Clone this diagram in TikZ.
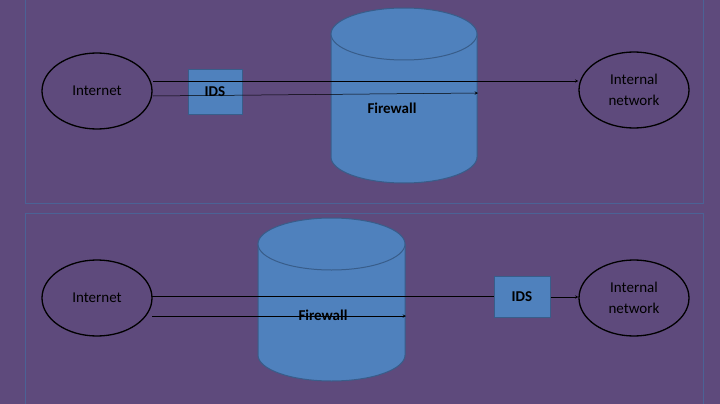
\documentclass[tikz,border=0pt]{standalone}
\usepackage{fontspec}
\setmainfont{Carlito}
\usetikzlibrary{shapes.geometric}
\begin{document}
\begin{tikzpicture}[x=1pt,y=-1pt,
  ell/.style={draw=black,line width=1.3pt,ellipse,minimum width=110pt,minimum height=76pt,inner sep=1pt,font=\fontsize{15}{21}\selectfont,align=center},
  box/.style={draw=blueb,fill=bluef,line width=1pt,minimum width=54pt,minimum height=44pt,font=\bfseries\fontsize{15}{18}\selectfont},
  cyl/.style={draw=blueb,fill=bluef,line width=1pt},
  arr/.style={->,>=stealth,line width=0.5pt},
  lbl/.style={font=\bfseries\fontsize{15}{18}\selectfont}]
\definecolor{bg}{HTML}{5E4A7C}
\definecolor{panel}{HTML}{4B6295}
\definecolor{bluef}{HTML}{4F81BD}
\definecolor{blueb}{HTML}{385D8A}
\useasboundingbox (0,0) rectangle (720,404);
\fill[bg] (0,0) rectangle (720,404);
\draw[panel,line width=1pt] (25,-5) rectangle (703,203);
\draw[panel,line width=1pt] (25,213) rectangle (703,410);
% top
\draw[cyl] (331,34) -- (331,157) arc[start angle=180,end angle=0,x radius=73,y radius=26] -- (477,34);
\draw[cyl] (404,34) ellipse[x radius=73,y radius=26];
\node[lbl] (fw1) at (392,108) {Firewall};
\node[ell] (in1) at (97,91) {Internet};
\node[box] (ids1) at (215,92) {IDS};
\node[ell] (net1) at (634,90) {Internal\\network};
\coordinate (a1) at (153,81);
\coordinate (b1) at (153,96);
\coordinate (c1) at (478,93);
\draw[arr] (a1) -- (net1.west |- a1);
\draw[arr] (b1) -- (c1);
% bottom
\draw[cyl] (258,244) -- (258,355) arc[start angle=180,end angle=0,x radius=73.5,y radius=26] -- (405,244);
\draw[cyl] (331.5,244) ellipse[x radius=73.5,y radius=26];
\node[lbl] (fw2) at (323,315) {Firewall};
\node[ell] (in2) at (97,298) {Internet};
\node[box,minimum width=56pt,minimum height=41pt] (ids2) at (522,297) {IDS};
\node[ell] (net2) at (634,298) {Internal\\network};
\coordinate (a2) at (152,296);
\coordinate (b2) at (152,316);
\coordinate (c2) at (406,316);
\draw[line width=0.5pt] (a2) -- (ids2.west |- a2);
\draw[arr] (ids2.east) -- (net2.west |- ids2.east);
\draw[arr] (b2) -- (c2);
\end{tikzpicture}
\end{document}
